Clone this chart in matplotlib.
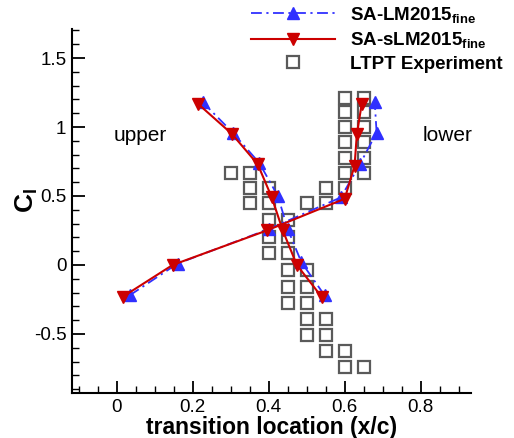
import matplotlib
matplotlib.use("Agg")
import matplotlib.pyplot as plt
from matplotlib.ticker import MultipleLocator

plt.rcParams['font.family'] = ['Liberation Sans', 'DejaVu Sans']
plt.rcParams['mathtext.fontset'] = 'custom'
plt.rcParams['mathtext.rm'] = 'Liberation Sans:bold'
plt.rcParams['mathtext.it'] = 'Liberation Sans:bold'
plt.rcParams['mathtext.bf'] = 'Liberation Sans:bold'

# SA-LM2015 fine (blue)
lm_upper_x = [0.226, 0.305, 0.375, 0.424, 0.450, 0.486, 0.547]
lm_upper_y = [1.18, 0.96, 0.74, 0.50, 0.26, 0.02, -0.22]
lm_lower_x = [0.034, 0.160, 0.400, 0.590, 0.640, 0.684, 0.679]
lm_lower_y = [-0.22, 0.01, 0.26, 0.49, 0.73, 0.96, 1.18]

# SA-sLM2015 fine (red)
slm_upper_x = [0.213, 0.303, 0.371, 0.408, 0.437, 0.474, 0.539]
slm_upper_y = [1.17, 0.95, 0.73, 0.49, 0.25, 0.00, -0.23]
slm_lower_x = [0.016, 0.147, 0.395, 0.600, 0.626, 0.632, 0.645]
slm_lower_y = [-0.23, 0.00, 0.25, 0.48, 0.72, 0.95, 1.17]

# LTPT experiment
exp_x = [0.30, 0.35, 0.35, 0.40, 0.35, 0.40, 0.40, 0.45, 0.40, 0.45, 0.40, 0.45,
         0.45, 0.50, 0.45, 0.50, 0.45, 0.50, 0.50, 0.55, 0.50, 0.55, 0.55, 0.60,
         0.60, 0.65,
         0.55, 0.60, 0.50, 0.55,
         0.60, 0.60, 0.60, 0.60, 0.60, 0.60,
         0.65, 0.65, 0.65, 0.65, 0.65, 0.65]
exp_y = [0.667, 0.667, 0.558, 0.558, 0.449, 0.449, 0.326, 0.326, 0.203, 0.203, 0.087, 0.087,
         -0.036, -0.036, -0.159, -0.159, -0.275, -0.275, -0.391, -0.391, -0.507, -0.507, -0.623, -0.623,
         -0.739, -0.739,
         0.558, 0.558, 0.449, 0.449,
         1.21, 1.109, 1.0, 0.891, 0.775, 0.667,
         1.21, 1.109, 1.0, 0.891, 0.775, 0.667]

blue = '#3030ff'
red = '#cc0000'
gray = '#5a5a5a'

fig = plt.figure(figsize=(5.14, 4.38), dpi=100)
ax = fig.add_axes([0.140, 0.1027, 0.776, 0.831])

dashdot = (0, (6, 2.5, 1.2, 2.5))
ax.plot(exp_x, exp_y, ls='none', marker='s', ms=8.5, mfc='none', mec=gray, mew=1.6,
        label='LTPT Experiment', zorder=2)
l1, = ax.plot(lm_upper_x, lm_upper_y, color=blue, ls=dashdot, lw=1.3, marker='^', ms=8.5,
              mec=blue, mfc=blue, label=r'SA-LM2015$_{\mathregular{fine}}$', zorder=3)
ax.plot(lm_lower_x, lm_lower_y, color=blue, ls=dashdot, lw=1.3, marker='^', ms=8.5,
        mec=blue, mfc=blue, zorder=3)
l2, = ax.plot(slm_upper_x, slm_upper_y, color=red, ls='-', lw=1.5, marker='v', ms=8.5,
              mec=red, mfc=red, label=r'SA-sLM2015$_{\mathregular{fine}}$', zorder=4)
ax.plot(slm_lower_x, slm_lower_y, color=red, ls='-', lw=1.5, marker='v', ms=8.5,
        mec=red, mfc=red, zorder=4)

ax.set_xlim(-0.118, 0.932)
ax.set_ylim(-0.928, 1.71)
ax.spines['top'].set_visible(False)
ax.spines['right'].set_visible(False)
ax.spines['left'].set_linewidth(1.5)
ax.spines['bottom'].set_linewidth(1.5)

ax.xaxis.set_major_locator(MultipleLocator(0.2))
ax.xaxis.set_minor_locator(MultipleLocator(0.05))
ax.yaxis.set_major_locator(MultipleLocator(0.5))
ax.yaxis.set_minor_locator(MultipleLocator(0.1))
ax.set_xticks([0, 0.2, 0.4, 0.6, 0.8])
ax.set_xticklabels(['0', '0.2', '0.4', '0.6', '0.8'])
ax.set_yticks([-0.5, 0, 0.5, 1, 1.5])
ax.set_yticklabels(['-0.5', '0', '0.5', '1', '1.5'])
ax.tick_params(which='major', direction='in', length=9, width=1.3, labelsize=13.5, pad=4)
ax.tick_params(which='minor', direction='in', length=5, width=1.0)

ax.set_xlabel('transition location (x/c)', fontsize=16.5, fontweight='bold', labelpad=0)
ax.set_ylabel(r'C$_\mathregular{l}$', fontsize=19, fontweight='bold')
ax.yaxis.set_label_coords(-0.08, 0.53)

ax.text(0.063, 0.94, 'upper', fontsize=15, ha='center', va='center')
ax.text(0.87, 0.94, 'lower', fontsize=15, ha='center', va='center')

handles = [l1, l2, ax.lines[0]]
leg = fig.legend(handles, [h.get_label() for h in handles], loc='upper right',
                 bbox_to_anchor=(1.0, 1.015), frameon=False,
                 prop={'weight': 'bold', 'size': 13.5}, handlelength=4.5,
                 handletextpad=0.8, labelspacing=0.3, borderaxespad=0.2)

fig.savefig('out.png', dpi=100)
